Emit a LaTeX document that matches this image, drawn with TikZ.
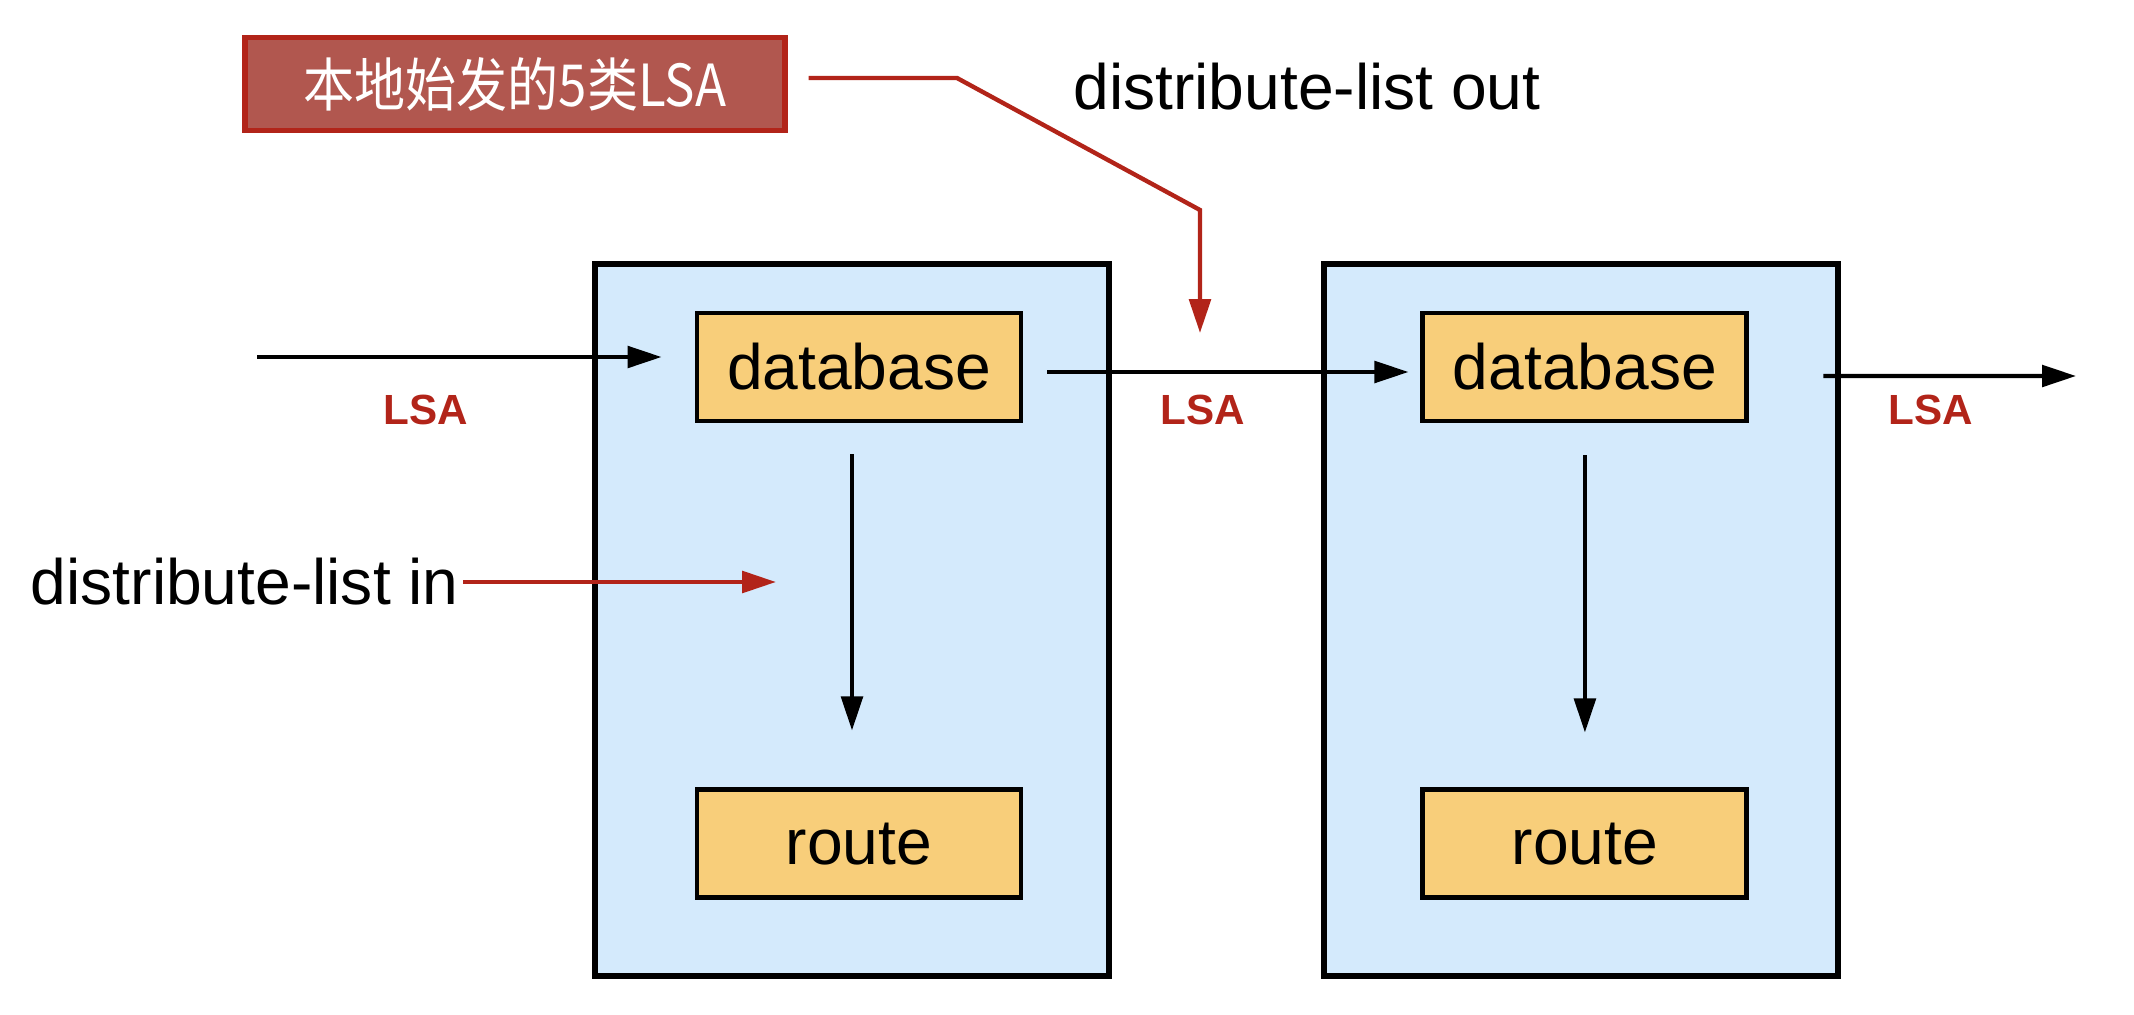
\documentclass[tikz,border=0pt]{standalone}
\usepackage{fontspec}
\setmainfont{Liberation Sans}
\newfontfamily\cjk[FakeStretch=0.88]{Noto Sans CJK SC}
\usetikzlibrary{arrows.meta, positioning}
\definecolor{router}{HTML}{D4EAFC}
\definecolor{table}{HTML}{F8CE7A}
\definecolor{filt}{HTML}{B22419}
\definecolor{origin}{HTML}{B1574F}
\tikzset{
  rtr/.style   = {draw=black, line width=3pt, fill=router, inner sep=0pt,
                  minimum width=10.28cm, minimum height=14.24cm},
  tbl/.style   = {draw=black, line width=2.8pt, fill=table, inner sep=0pt,
                  minimum width=6.48cm, minimum height=2.16cm,
                  font=\fontsize{36.5}{40}\selectfont},
  own/.style   = {draw=filt, line width=3pt, fill=origin, text=white, inner sep=0pt,
                  minimum width=10.8cm, minimum height=1.86cm,
                  font=\cjk\fontsize{33}{36}\selectfont},
  lsa/.style   = {text=filt, font=\fontsize{24}{28}\selectfont\bfseries},
  cmd/.style   = {inner sep=0pt, font=\fontsize{36.5}{40}\selectfont},
  flow/.style  = {-{Triangle[length=6.8mm,width=4.3mm]}, draw=black, line width=2.3pt},
  cut/.style   = {-{Triangle[length=6.8mm,width=4.3mm]}, draw=filt, line width=2.5pt},
}
\begin{document}
\begin{tikzpicture}[x=0.2mm, y=-0.2mm]
\useasboundingbox (0,0) rectangle (2134,1014);

% two routers
\node[rtr] (r1) at (852,620) {};
\node[rtr] (r2) at (1581,620) {};

\node[tbl] (db1) at (859,367) {database};
\node[tbl, below=72.8mm of db1] (rt1) {route};
\node[tbl, right=79.4mm of db1] (db2) {database};
\node[tbl, below=72.8mm of db2] (rt2) {route};

\node[lsa] (l1) at (426,410) {LSA};
\node[lsa] (l2) at (1203,410) {LSA};
\node[lsa] (l3) at (1931,410) {LSA};

% filters
\node[own] (own5) at (515,84) {本地始发的5类LSA};
\node[cmd] (dout) at (1307,87) {distribute-list out};
\node[cmd, anchor=east] (din) at (459,582) {distribute-list in};

\coordinate (src) at (257,357);
\coordinate (sink) at (2076,376);
\coordinate (bend) at (957,78);
\coordinate (drop) at (1200,210);
\coordinate (dropend) at (1200,333);
\coordinate (dinend) at (776,582);

\draw[flow, shorten >=6.6mm] (src) -- (src -| db1.west);
\draw[flow, shorten <=4.8mm, shorten >=2.4mm] ([yshift=-1mm]db1.east) -- ([yshift=-1mm]db2.west);
\draw[flow, shorten <=14.8mm] ([yshift=-1.8mm]db2.east) -- (sink);
\draw[flow, shorten <=6.2mm, shorten >=11.4mm] ([xshift=-1.4mm]db1.south) -- ([xshift=-1.4mm]rt1.north);
\draw[flow, shorten <=6.4mm, shorten >=11mm] (db2.south) -- (rt2.north);

\draw[cut, shorten <=4.2mm] ([yshift=1.2mm]own5.east) -- (bend) -- (drop) -- (dropend);
\draw[cut, shorten <=0.8mm] (din.east) -- (din.east -| dinend);

\end{tikzpicture}
\end{document}
